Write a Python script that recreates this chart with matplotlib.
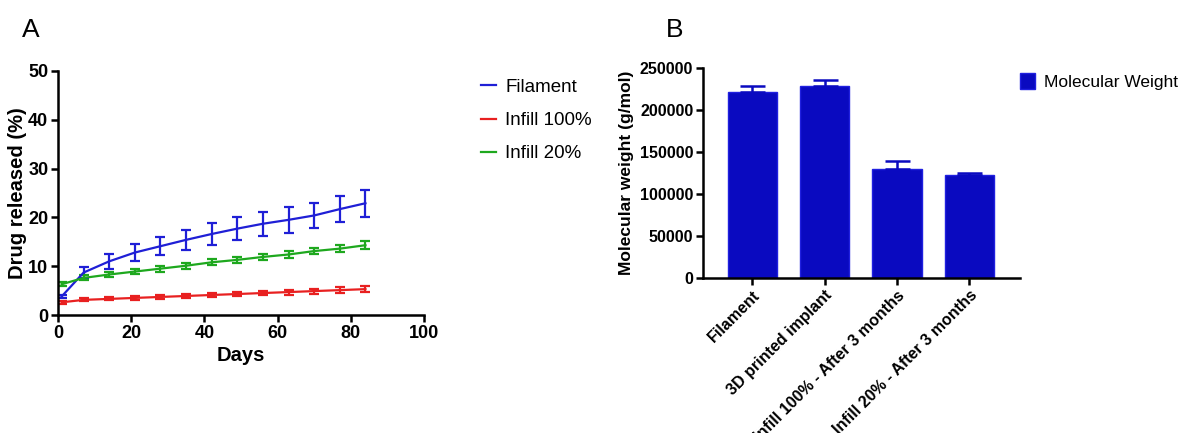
import numpy as np
import matplotlib.pyplot as plt
from matplotlib.lines import Line2D

plt.rcParams['font.family'] = ['Liberation Sans', 'DejaVu Sans']

# panel A data
days = [1, 7, 14, 21, 28, 35, 42, 49, 56, 63, 70, 77, 84]
filament = [3.8, 8.7, 11.0, 12.8, 14.1, 15.4, 16.6, 17.7, 18.7, 19.5, 20.4, 21.7, 22.9]
filament_err = [0.4, 1.1, 1.6, 1.7, 1.9, 2.1, 2.3, 2.4, 2.5, 2.6, 2.6, 2.7, 2.8]
infill100 = [2.6, 3.1, 3.3, 3.5, 3.7, 3.9, 4.1, 4.3, 4.5, 4.7, 4.9, 5.1, 5.3]
infill100_err = [0.3, 0.3, 0.3, 0.35, 0.4, 0.4, 0.45, 0.45, 0.5, 0.5, 0.5, 0.55, 0.6]
infill20 = [6.3, 7.6, 8.3, 8.9, 9.5, 10.1, 10.8, 11.3, 11.9, 12.4, 13.1, 13.6, 14.3]
infill20_err = [0.4, 0.5, 0.6, 0.6, 0.6, 0.6, 0.6, 0.6, 0.7, 0.7, 0.7, 0.7, 0.8]

# panel B data
samples = ['Filament', '3D printed implant', 'Infill 100% - After 3 months',
           'Infill 20% - After 3 months']
mw = [221000, 229000, 130000, 123000]
mw_err = [8000, 7000, 9500, 2000]

fig = plt.figure(figsize=(11.82, 4.33), dpi=100)
W, H = 1182, 433

# ---- A ----
ax1 = fig.add_axes([58 / W, 1 - 315 / H, (424 - 58) / W, (315 - 71) / H])
series = [(filament, filament_err, '#1f1fd6', 'Filament'),
          (infill100, infill100_err, '#e82020', 'Infill 100%'),
          (infill20, infill20_err, '#1ea81e', 'Infill 20%')]
for y, e, c, lab in series:
    ax1.errorbar(days, y, yerr=e, color=c, lw=1.6, capsize=3.5, capthick=1.6,
                 elinewidth=1.6, label=lab)
ax1.set_xlim(0, 100)
ax1.set_ylim(0, 50)
ax1.set_xticks([0, 20, 40, 60, 80, 100])
ax1.set_yticks([0, 10, 20, 30, 40, 50])
ax1.set_xlabel('Days', fontsize=14.5, fontweight='bold', labelpad=3)
ax1.set_ylabel('Drug released (%)', fontsize=14.5, fontweight='bold', labelpad=1)
for s in ['top', 'right']:
    ax1.spines[s].set_visible(False)
for s in ['left', 'bottom']:
    ax1.spines[s].set_linewidth(1.8)
ax1.tick_params(width=1.8, length=5, labelsize=13, pad=2)
for t in ax1.get_xticklabels() + ax1.get_yticklabels():
    t.set_fontweight('bold')
labels = [s[3] for s in series]
leg_h = [Line2D([], [], color=c, lw=1.6) for _, _, c, _ in series]
fig.legend(leg_h, labels, loc='upper left', bbox_to_anchor=(464 / W, 1 - 62 / H),
           frameon=False, fontsize=13.5, handlelength=0.8, handletextpad=0.5,
           labelspacing=0.85)
fig.text(22 / W, 1 - 30 / H, 'A', fontsize=19, va='center')

# ---- B ----
ax2 = fig.add_axes([703 / W, 1 - 278 / H, (1020 - 703) / W, (278 - 68) / H])
xpos = np.arange(len(samples))
ax2.bar(xpos, mw, width=0.68, color='#0a0ac0', edgecolor='#2020e0', lw=1,
        label='Molecular Weight')
ax2.errorbar(xpos, mw, yerr=[np.zeros(len(mw)), mw_err], fmt='none',
             ecolor='#0a0ac0', capsize=9, capthick=1.8, elinewidth=1.8)
ax2.set_xlim(-0.68, 3.7)
ax2.set_ylim(0, 250000)
ax2.set_yticks(np.arange(0, 250001, 50000))
ax2.set_xticks(xpos)
ax2.set_xticklabels(samples, rotation=45, ha='right', rotation_mode='anchor')
ax2.set_ylabel('Molecular weight (g/mol)', fontsize=12.5, fontweight='bold',
               labelpad=4)
for s in ['top', 'right']:
    ax2.spines[s].set_visible(False)
for s in ['left', 'bottom']:
    ax2.spines[s].set_linewidth(1.8)
ax2.tick_params(width=1.8, length=5, labelsize=11.5, pad=2)
for t in ax2.get_xticklabels() + ax2.get_yticklabels():
    t.set_fontweight('bold')
fig.legend(*ax2.get_legend_handles_labels(), loc='upper left',
           bbox_to_anchor=(1004 / W, 1 - 57 / H), frameon=False, fontsize=12.5,
           handlelength=0.9, handleheight=1.1, handletextpad=0.5)
fig.text(666 / W, 1 - 30 / H, 'B', fontsize=19, va='center')

fig.savefig('out.png', dpi=100)
